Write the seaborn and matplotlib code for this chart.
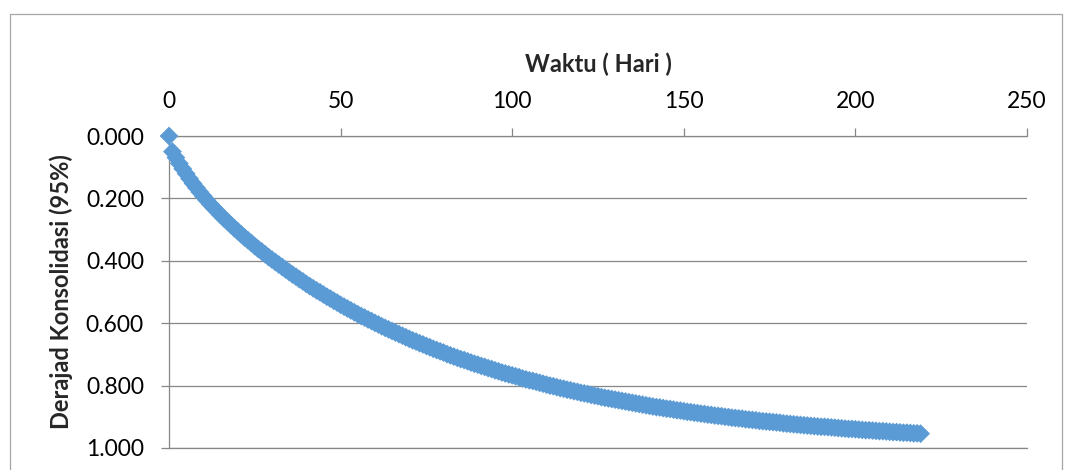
import matplotlib
matplotlib.use("Agg")
import matplotlib.pyplot as plt
import seaborn as sns
import pandas as pd
from matplotlib.lines import Line2D

# Waktu (hari)
days = [
    0, 1, 2, 3, 4, 5, 6, 7, 8, 9, 10, 11, 12, 13, 14, 15, 16, 17, 18, 19,
    20, 21, 22, 23, 24, 25, 26, 27, 28, 29, 30, 31, 32, 33, 34, 35, 36, 37, 38, 39,
    40, 41, 42, 43, 44, 45, 46, 47, 48, 49, 50, 51, 52, 53, 54, 55, 56, 57, 58, 59,
    60, 61, 62, 63, 64, 65, 66, 67, 68, 69, 70, 71, 72, 73, 74, 75, 76, 77, 78, 79,
    80, 81, 82, 83, 84, 85, 86, 87, 88, 89, 90, 91, 92, 93, 94, 95, 96, 97, 98, 99,
    100, 101, 102, 103, 104, 105, 106, 107, 108, 109, 110, 111, 112, 113, 114, 115, 116, 117, 118, 119,
    120, 121, 122, 123, 124, 125, 126, 127, 128, 129, 130, 131, 132, 133, 134, 135, 136, 137, 138, 139,
    140, 141, 142, 143, 144, 145, 146, 147, 148, 149, 150, 151, 152, 153, 154, 155, 156, 157, 158, 159,
    160, 161, 162, 163, 164, 165, 166, 167, 168, 169, 170, 171, 172, 173, 174, 175, 176, 177, 178, 179,
    180, 181, 182, 183, 184, 185, 186, 187, 188, 189, 190, 191, 192, 193, 194, 195, 196, 197, 198, 199,
    200, 201, 202, 203, 204, 205, 206, 207, 208, 209, 210, 211, 212, 213, 214, 215, 216, 217, 218, 219,
]

# Derajad konsolidasi
derajat = [
    0.000, 0.050, 0.069, 0.088, 0.105, 0.121, 0.137, 0.152, 0.166, 0.180,
    0.193, 0.206, 0.218, 0.230, 0.241, 0.253, 0.264, 0.274, 0.285, 0.295,
    0.305, 0.315, 0.325, 0.334, 0.343, 0.353, 0.362, 0.370, 0.379, 0.388,
    0.396, 0.404, 0.412, 0.420, 0.428, 0.436, 0.444, 0.451, 0.459, 0.466,
    0.474, 0.481, 0.488, 0.495, 0.501, 0.508, 0.515, 0.521, 0.528, 0.534,
    0.541, 0.547, 0.553, 0.559, 0.565, 0.571, 0.577, 0.582, 0.588, 0.593,
    0.599, 0.604, 0.610, 0.615, 0.620, 0.625, 0.630, 0.635, 0.640, 0.645,
    0.650, 0.655, 0.659, 0.664, 0.668, 0.673, 0.677, 0.682, 0.686, 0.690,
    0.694, 0.699, 0.703, 0.707, 0.711, 0.715, 0.718, 0.722, 0.726, 0.730,
    0.733, 0.737, 0.740, 0.744, 0.747, 0.751, 0.754, 0.758, 0.761, 0.764,
    0.767, 0.770, 0.773, 0.777, 0.780, 0.783, 0.785, 0.788, 0.791, 0.794,
    0.797, 0.800, 0.802, 0.805, 0.808, 0.810, 0.813, 0.815, 0.818, 0.820,
    0.823, 0.825, 0.827, 0.830, 0.832, 0.834, 0.837, 0.839, 0.841, 0.843,
    0.845, 0.847, 0.849, 0.851, 0.853, 0.855, 0.857, 0.859, 0.861, 0.863,
    0.865, 0.867, 0.869, 0.870, 0.872, 0.874, 0.875, 0.877, 0.879, 0.880,
    0.882, 0.884, 0.885, 0.887, 0.888, 0.890, 0.891, 0.893, 0.894, 0.896,
    0.897, 0.898, 0.900, 0.901, 0.903, 0.904, 0.905, 0.906, 0.908, 0.909,
    0.910, 0.911, 0.913, 0.914, 0.915, 0.916, 0.917, 0.918, 0.919, 0.921,
    0.922, 0.923, 0.924, 0.925, 0.926, 0.927, 0.928, 0.929, 0.930, 0.931,
    0.932, 0.932, 0.933, 0.934, 0.935, 0.936, 0.937, 0.938, 0.939, 0.939,
    0.940, 0.941, 0.942, 0.943, 0.943, 0.944, 0.945, 0.946, 0.946, 0.947,
    0.948, 0.949, 0.949, 0.950, 0.951, 0.951, 0.952, 0.953, 0.953, 0.954,
]

x_ticks = [0, 50, 100, 150, 200, 250]
y_ticks = [0.0, 0.2, 0.4, 0.6, 0.8, 1.0]
x_title = "Waktu ( Hari )"
y_title = "Derajad Konsolidasi (95%)"

sns.set_style("white")
plt.rcParams["font.family"] = ["Lato", "DejaVu Sans"]

W, H = 1071, 470
fig = plt.figure(figsize=(W / 100, H / 100), dpi=100)
L, R, T, B = 169, 1027, 136, 448
ax = fig.add_axes([L / W, 1 - B / H, (R - L) / W, (B - T) / H])

df = pd.DataFrame({"Waktu": days, "U": derajat})
sns.scatterplot(data=df, x="Waktu", y="U", ax=ax, marker="D", s=92,
                color="#5B9BD5", edgecolor="none", linewidth=0, zorder=3,
                clip_on=False)

grid_c = "#878787"
ax.set_xlim(0, 250)
ax.set_ylim(1.0, 0.0)
ax.set_xticks(x_ticks)
ax.set_yticks(y_ticks)
ax.set_yticklabels([f"{v:.3f}" for v in y_ticks])
ax.xaxis.tick_top()
ax.xaxis.set_label_position("top")
ax.tick_params(axis="x", which="both", top=True, bottom=False, direction="out",
               length=6, width=0.9, color=grid_c, pad=11, labelsize=16.5,
               labelcolor="black")
ax.tick_params(axis="y", which="both", left=True, direction="out",
               length=6, width=0.9, color=grid_c, pad=12, labelsize=16.5,
               labelcolor="black")

ax.yaxis.grid(True, color=grid_c, linewidth=0.9)
ax.xaxis.grid(False)
ax.set_axisbelow(True)
ax.spines["right"].set_visible(False)
for side in ["left", "top", "bottom"]:
    ax.spines[side].set_color(grid_c)
    ax.spines[side].set_linewidth(0.9)

ax.set_xlabel("")
ax.set_ylabel("")
fig.text((L + R) / 2 / W, 1 - 64 / H, x_title, ha="center", va="center",
         fontsize=17, fontweight="bold")
fig.text(61 / W, 1 - (T + B) / 2 / H, y_title, ha="center", va="center",
         rotation=90, fontsize=17, fontweight="bold")

# chart frame
bc = "#A6A6A6"
fx0, fx1 = 9.5 / W, 1061.5 / W
fy1 = 1 - 13.5 / H
fig.add_artist(Line2D([fx0, fx0], [-0.01, fy1], transform=fig.transFigure, color=bc, lw=0.9))
fig.add_artist(Line2D([fx0, fx1], [fy1, fy1], transform=fig.transFigure, color=bc, lw=0.9))
fig.add_artist(Line2D([fx1, fx1], [-0.01, fy1], transform=fig.transFigure, color=bc, lw=0.9))

fig.savefig("out.png", dpi=100)
